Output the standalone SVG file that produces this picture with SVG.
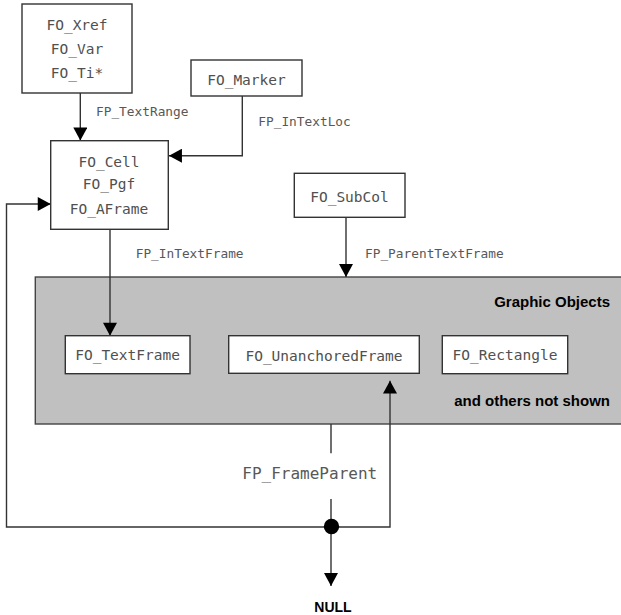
<svg xmlns="http://www.w3.org/2000/svg" width="621" height="615" viewBox="0 0 621 615">
<defs>
<style>
.box{fill:#fff;stroke:#333;stroke-width:1.4}
.t{font-family:"DejaVu Sans Mono","Liberation Mono",monospace;font-size:14.5px;fill:#505050;text-anchor:middle}
.lbl{font-family:"DejaVu Sans Mono","Liberation Mono",monospace;font-size:12.8px;fill:#585858}
.b{font-family:"Liberation Sans",Arial,sans-serif;font-weight:bold;font-size:15px;fill:#000}
.c{fill:none;stroke:#333;stroke-width:1.4}
</style>
<marker id="ah" markerUnits="userSpaceOnUse" markerWidth="14" markerHeight="14" viewBox="0 0 12 13" refX="12" refY="6.5" orient="auto">
<path d="M0,0 L12,6.5 L0,13 Z" fill="#000"/>
</marker>
</defs>
<rect id="graphic-objects" x="35.3" y="277" width="600" height="147" fill="#c0c0c0" stroke="#444" stroke-width="1.4"/>
<text class="b" x="610" y="307" text-anchor="end">Graphic Objects</text>
<text class="b" x="610" y="406" text-anchor="end">and others not shown</text>
<g id="connectors">
<path class="c" d="M80.3,93 V140.5" marker-end="url(#ah)"/>
<path class="c" d="M242.3,96 V155.7 H169" marker-end="url(#ah)"/>
<path class="c" d="M331,527 H6.5 V204 H50.7" marker-end="url(#ah)"/>
<path class="c" d="M331,527 H390 V380.7" marker-end="url(#ah)"/>
<path class="c" d="M110,229 V335.7" marker-end="url(#ah)"/>
<path class="c" d="M346,217.3 V277" marker-end="url(#ah)"/>
<path class="c" d="M331,424 V453.3 M331,499 V527"/>
<path class="c" d="M331,527 V586" marker-end="url(#ah)"/>
<circle cx="331.5" cy="526.5" r="7.7" fill="#000"/>
<text class="lbl" x="96" y="115.7">FP_TextRange</text>
<text class="lbl" x="258.3" y="125.7">FP_InTextLoc</text>
<text class="lbl" x="135.7" y="257.7">FP_InTextFrame</text>
<text class="lbl" x="365" y="257.7">FP_ParentTextFrame</text>
<text class="lbl" x="242.3" y="478.5" style="font-size:16px">FP_FrameParent</text>
<text class="b" x="333" y="612" text-anchor="middle" style="font-size:14px">NULL</text>
</g>
<g id="xref">
<rect class="box" x="22" y="4" width="110" height="89"/>
<text class="t" x="77" y="30">FO_Xref</text>
<text class="t" x="77" y="53.5">FO_Var</text>
<text class="t" x="77" y="77.5">FO_Ti*</text>
</g>
<g id="marker">
<rect class="box" x="191" y="60" width="111" height="36"/>
<text class="t" x="246.5" y="85">FO_Marker</text>
</g>
<g id="cell">
<rect class="box" x="50.7" y="140.7" width="117.6" height="88.6"/>
<text class="t" x="109" y="166.5">FO_Cell</text>
<text class="t" x="109" y="189">FO_Pgf</text>
<text class="t" x="109" y="213.5">FO_AFrame</text>
</g>
<g id="subcol">
<rect class="box" x="294.3" y="173.3" width="110.7" height="44"/>
<text class="t" x="349.5" y="202.3">FO_SubCol</text>
</g>
<g id="textframe">
<rect class="box" x="65.3" y="335.7" width="124.7" height="38"/>
<text class="t" x="127.6" y="360">FO_TextFrame</text>
</g>
<g id="unanchored">
<rect class="box" x="228.7" y="335.7" width="190.6" height="37.6"/>
<text class="t" x="324" y="360.5">FO_UnanchoredFrame</text>
</g>
<g id="rectangle">
<rect class="box" x="442.3" y="335.7" width="125.4" height="38"/>
<text class="t" x="505" y="360">FO_Rectangle</text>
</g>
</svg>
